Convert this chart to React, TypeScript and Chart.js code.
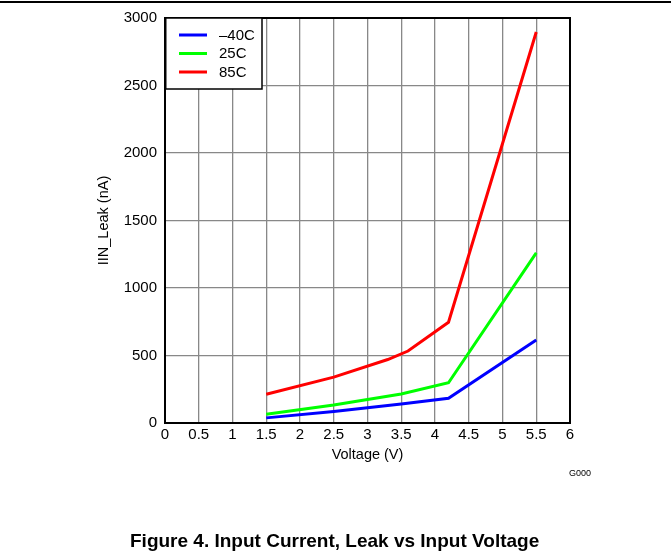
import React, { useEffect, useRef } from "react";
import { Chart, registerables } from "chart.js";

Chart.register(...registerables);

const seriesNames = ["\u201340C", "25C", "85C"];
const seriesColors = ["#0000ff", "#00ff00", "#ff0000"];
const voltsCold = [1.5, 2.5, 3.5, 4.2, 5.5];
const leakCold = [38, 85, 140, 183, 615];
const voltsRoom = [1.5, 2.5, 3.5, 4.2, 5.5];
const leakRoom = [65, 133, 215, 298, 1260];
const voltsHot = [1.5, 2.5, 3.3, 3.6, 4.2, 5.5];
const leakHot = [213, 340, 470, 533, 746, 2896];
const xTicks = [0, 0.5, 1, 1.5, 2, 2.5, 3, 3.5, 4, 4.5, 5, 5.5, 6];
const yTicks = [0, 500, 1000, 1500, 2000, 2500, 3000];
const xTitle = "Voltage (V)";
const yTitle = "IIN_Leak (nA)";
const caption = "Figure 4. Input Current, Leak vs Input Voltage";
const figId = "G000";

const FONT = "'Liberation Sans', Arial, sans-serif";

function pts(xs: number[], ys: number[]) {
  return xs.map((x, i) => ({ x, y: ys[i] }));
}

export default function App() {
  const ref = useRef<HTMLCanvasElement | null>(null);

  useEffect(() => {
    const canvas = ref.current;
    if (!canvas) return;

    const overlay = {
      id: "overlay",
      afterDraw(chart: any) {
        const { ctx, chartArea } = chart;
        const { left, right, top, bottom } = chartArea;
        ctx.save();
        // border
        ctx.strokeStyle = "#000";
        ctx.lineWidth = 2;
        ctx.strokeRect(left, top, right - left, bottom - top);
        // legend
        const lx = left, ly = top, lw = 97, lh = 71;
        ctx.fillStyle = "#fff";
        ctx.fillRect(lx, ly, lw, lh);
        ctx.strokeStyle = "#000";
        ctx.lineWidth = 1.5;
        ctx.strokeRect(lx + 0.75, ly, lw - 0.75, lh);
        ctx.font = `15px ${FONT}`;
        ctx.textBaseline = "middle";
        ctx.textAlign = "left";
        seriesNames.forEach((n, i) => {
          const yy = ly + 17 + i * 18.5;
          ctx.strokeStyle = seriesColors[i];
          ctx.lineWidth = 3;
          ctx.beginPath();
          ctx.moveTo(lx + 14, yy);
          ctx.lineTo(lx + 42, yy);
          ctx.stroke();
          ctx.fillStyle = "#000";
          ctx.fillText(n, lx + 54, yy + 0.5);
        });
        // axis titles
        ctx.fillStyle = "#000";
        ctx.font = `14.5px ${FONT}`;
        ctx.textAlign = "center";
        ctx.fillText(xTitle, (left + right) / 2, bottom + 32);
        ctx.save();
        ctx.translate(104, (top + bottom) / 2);
        ctx.rotate(-Math.PI / 2);
        ctx.fillText(yTitle, 0, 0);
        ctx.restore();
        // figure id
        ctx.font = `9px ${FONT}`;
        ctx.textAlign = "left";
        ctx.fillText(figId, 569, 474);
        // top rule
        ctx.strokeStyle = "#000";
        ctx.lineWidth = 2;
        ctx.beginPath();
        ctx.moveTo(0, 2);
        ctx.lineTo(671, 2);
        ctx.stroke();
        ctx.restore();
      },
    };

    const mk = (i: number, xs: number[], ys: number[]) => ({
      label: seriesNames[i],
      data: pts(xs, ys),
      borderColor: seriesColors[i],
      backgroundColor: seriesColors[i],
      borderWidth: 3,
      pointRadius: 0,
      tension: 0,
      fill: false,
    });

    const chart = new Chart(canvas, {
      type: "line",
      data: {
        datasets: [mk(0, voltsCold, leakCold), mk(1, voltsRoom, leakRoom), mk(2, voltsHot, leakHot)],
      },
      options: {
        animation: false,
        responsive: false,
        devicePixelRatio: 1,
        layout: { padding: { left: 100, right: 101, top: 18, bottom: 0 } },
        plugins: { legend: { display: false }, tooltip: { enabled: false } },
        scales: {
          x: {
            type: "linear",
            min: 0,
            max: 6,
            afterBuildTicks: (s: any) => {
              s.ticks = xTicks.map((v) => ({ value: v }));
            },
            afterFit: (s: any) => {
              s.height = 133;
            },
            ticks: {
              color: "#000",
              font: { family: FONT, size: 15 },
              padding: 3,
              maxRotation: 0,
              autoSkip: false,
              callback: (v: any) => String(v),
            },
            grid: { color: "#888", lineWidth: 1.3, drawTicks: false },
            border: { display: false },
          },
          y: {
            type: "linear",
            min: 0,
            max: 3000,
            afterBuildTicks: (s: any) => {
              s.ticks = yTicks.map((v) => ({ value: v }));
            },
            afterFit: (s: any) => {
              s.width = 65;
            },
            ticks: {
              color: "#000",
              font: { family: FONT, size: 15 },
              padding: 8,
              autoSkip: false,
              callback: (v: any) => String(v),
            },
            grid: { color: "#888", lineWidth: 1.3, drawTicks: false },
            border: { display: false },
          },
        },
      },
      plugins: [overlay],
    } as any);

    return () => chart.destroy();
  }, []);

  return (
    <div style={{ position: "fixed", left: 0, top: 0, width: 671, height: 556, background: "#fff" }}>
      <canvas ref={ref} width={671} height={556} style={{ position: "absolute", left: 0, top: 0 }} />
      <div
        style={{
          position: "absolute",
          left: 130,
          top: 530,
          whiteSpace: "nowrap",
          fontFamily: FONT,
          fontWeight: "bold",
          fontSize: 19,
          lineHeight: "22px",
          color: "#000",
        }}
      >
        {caption}
      </div>
    </div>
  );
}
